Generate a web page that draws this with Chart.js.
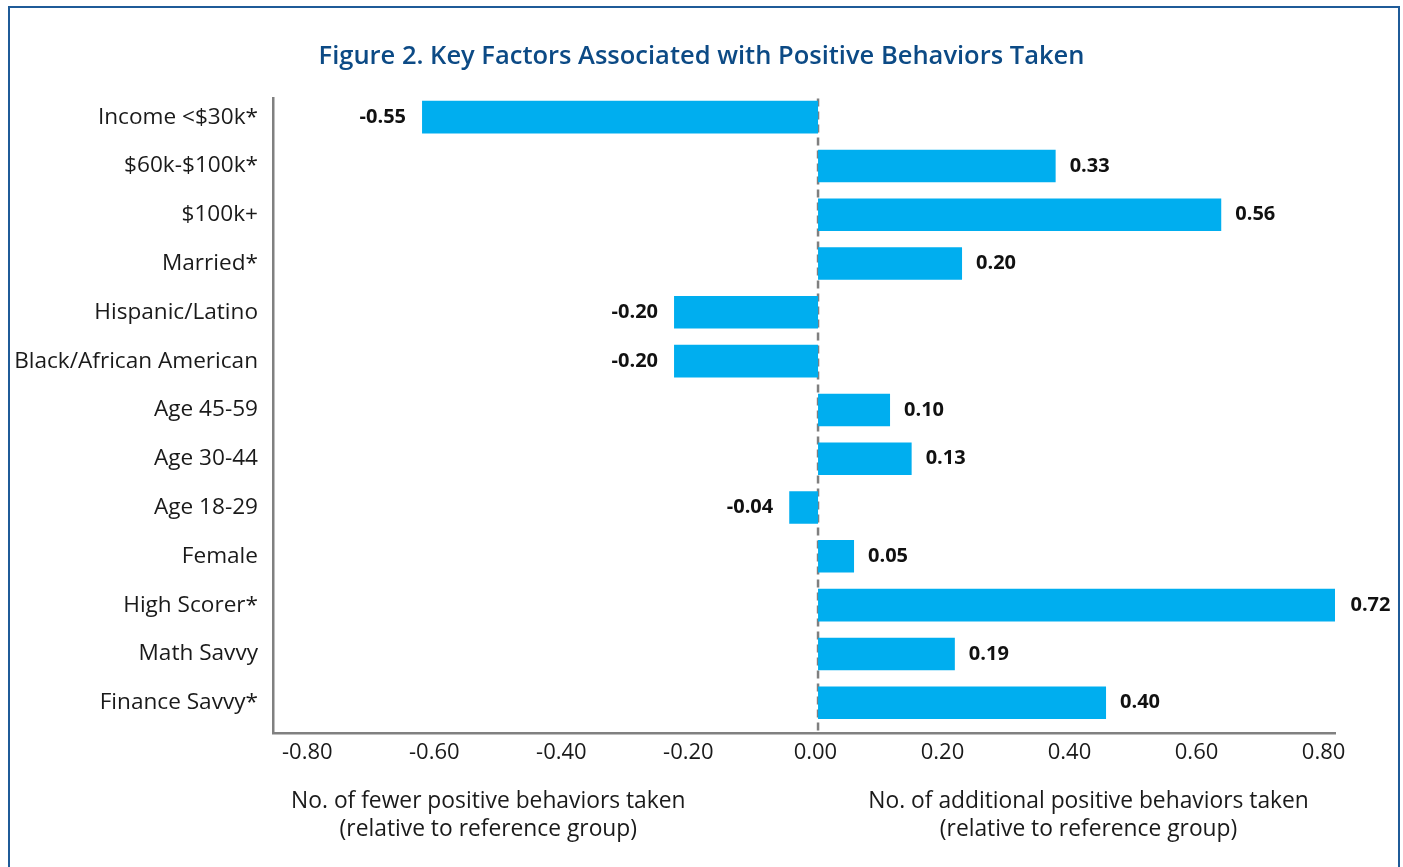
<!DOCTYPE html>
<html>
<head>
<meta charset="utf-8">
<script src="https://cdn.jsdelivr.net/npm/chart.js@4.4.1/dist/chart.umd.min.js"></script>
<style>
    html, body {
        margin: 0;
        padding: 0;
        background: #ffffff;
        overflow: hidden;
    }
    .frame {
        position: absolute;
        left: 8px;
        top: 6px;
        width: 1388px;
        height: 900px;
        border: 2px solid #1f5b98;
        border-bottom: none;
    }
    .chart-box {
        position: absolute;
        left: 0;
        top: 0;
        width: 1403px;
        height: 867px;
    }
</style>
</head>
<body>
<div class="frame"></div>
<div class="chart-box">
    <canvas id="factorsChart" width="1403" height="867"></canvas>
</div>
<script>
const categories = [
    'Income <$30k*',
    '$60k-$100k*',
    '$100k+',
    'Married*',
    'Hispanic/Latino',
    'Black/African American',
    'Age 45-59',
    'Age 30-44',
    'Age 18-29',
    'Female',
    'High Scorer*',
    'Math Savvy',
    'Finance Savvy*'
];
const behaviorValues = [-0.55, 0.33, 0.56, 0.20, -0.20, -0.20, 0.10, 0.13, -0.04, 0.05, 0.72, 0.19, 0.40];
const tickLabels = [-0.80, -0.60, -0.40, -0.20, 0.00, 0.20, 0.40, 0.60, 0.80];
const leftTitle = ['No. of fewer positive behaviors taken', '(relative to reference group)'];
const rightTitle = ['No. of additional positive behaviors taken', '(relative to reference group)'];

const FONT = "'Open Sans', 'Noto Sans', sans-serif";

// dashed line at zero
const zeroLine = {
    id: 'zeroLine',
    beforeDatasetsDraw(chart) {
        const ctx = chart.ctx;
        const x = chart.scales.x.getPixelForValue(0);
        const area = chart.chartArea;
        ctx.save();
        ctx.strokeStyle = '#7f7f7f';
        ctx.lineWidth = 2.5;
        ctx.setLineDash([8, 5]);
        ctx.beginPath();
        ctx.moveTo(x, area.top);
        ctx.lineTo(x, area.bottom);
        ctx.stroke();
        ctx.restore();
    }
};

// value labels next to each bar
const barLabels = {
    id: 'barLabels',
    afterDatasetsDraw(chart) {
        const ctx = chart.ctx;
        const meta = chart.getDatasetMeta(0);
        ctx.save();
        ctx.font = 'bold 20px ' + FONT;
        ctx.fillStyle = '#111111';
        ctx.textBaseline = 'middle';
        meta.data.forEach((bar, i) => {
            const v = behaviorValues[i];
            if (v >= 0) {
                ctx.textAlign = 'left';
                ctx.fillText(v.toFixed(2), bar.x + 14, bar.y);
            } else {
                ctx.textAlign = 'right';
                ctx.fillText(v.toFixed(2), bar.x - 16, bar.y);
            }
        });
        ctx.restore();
    }
};

// two-line titles under the axis
const sideTitles = {
    id: 'sideTitles',
    afterDraw(chart) {
        const ctx = chart.ctx;
        const scale = chart.scales.x2;
        const y0 = chart.chartArea.bottom + 69;
        ctx.save();
        ctx.font = '22.8px ' + FONT;
        ctx.fillStyle = '#1a1a1a';
        ctx.textAlign = 'center';
        ctx.textBaseline = 'middle';
        const lx = scale.getPixelForValue(-0.515);
        const rx = scale.getPixelForValue(0.43);
        leftTitle.forEach((t, i) => ctx.fillText(t, lx, y0 + i * 28));
        rightTitle.forEach((t, i) => ctx.fillText(t, rx, y0 + i * 28));
        ctx.restore();
    }
};

const ctx = document.getElementById('factorsChart').getContext('2d');
const chart = new Chart(ctx, {
    type: 'bar',
    data: {
        labels: categories,
        datasets: [{
            data: behaviorValues,
            backgroundColor: '#00aeef',
            borderWidth: 0,
            barPercentage: 0.667,
            categoryPercentage: 1.0
        }]
    },
    options: {
        indexAxis: 'y',
        responsive: false,
        animation: false,
        layout: {
            padding: 0
        },
        plugins: {
            legend: { display: false },
            tooltip: { enabled: false },
            title: {
                display: true,
                text: 'Figure 2. Key Factors Associated with Positive Behaviors Taken',
                color: '#0c4a85',
                font: { size: 25.5, weight: '600', family: FONT },
                padding: { top: 41, bottom: 27 }
            }
        },
        scales: {
            x: {
                display: false,
                min: -0.757,
                max: 0.718
            },
            x2: {
                type: 'linear',
                position: 'bottom',
                min: -0.854,
                max: 0.818,
                grid: { display: false, drawTicks: false },
                border: { display: true, color: '#808080', width: 2.5 },
                ticks: {
                    padding: 7,
                    color: '#1a1a1a',
                    font: { size: 22, family: FONT },
                    callback: value => value.toFixed(2)
                },
                afterBuildTicks: scale => {
                    scale.ticks = tickLabels.map(v => ({ value: v }));
                },
                afterFit: scale => {
                    scale.height = 134;
                }
            },
            y: {
                grid: { display: false, drawTicks: false },
                border: { display: true, color: '#808080', width: 2.5 },
                ticks: {
                    padding: 15,
                    color: '#1a1a1a',
                    font: { size: 22.6, family: FONT }
                },
                afterBuildTicks: scale => {
                    // first bar sits a little closer to the top of the axis
                    scale._startValue = -0.38;
                },
                afterFit: scale => {
                    scale.width = 273;
                }
            },
            // empty right margin so the title centres on the whole figure
            yRight: {
                type: 'category',
                position: 'right',
                display: true,
                grid: { display: false, drawTicks: false },
                border: { display: false },
                ticks: { display: false },
                afterFit: scale => {
                    scale.width = 68;
                }
            }
        }
    },
    plugins: [zeroLine, barLabels, sideTitles]
});
</script>
</body>
</html>
